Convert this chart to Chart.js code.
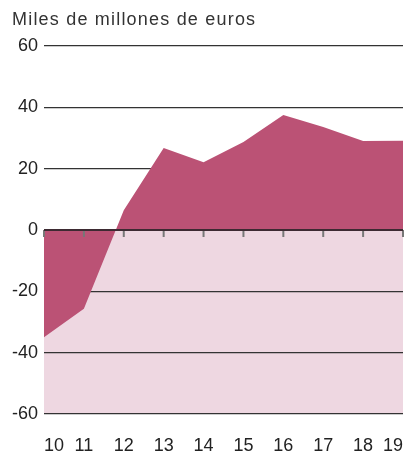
<!DOCTYPE html>
<html>
<head>
<meta charset="utf-8">
<script src="https://cdn.jsdelivr.net/npm/chart.js@4"></script>
<style>
  html, body { margin: 0; padding: 0; background: #fff; }
  #wrap { width: 405px; height: 451px; }
</style>
</head>
<body>
<div id="wrap"><canvas id="c" width="405" height="451"></canvas></div>
<script>
const categories = ['10', '11', '12', '13', '14', '15', '16', '17', '18', '19'];
const balance = [-35, -25.7, 6.4, 26.7, 22.1, 28.7, 37.5, 33.6, 29.0, 29.1];
const yTicks = [-60, -40, -20, 0, 20, 40, 60];
const titleText = 'Miles de millones de euros';

const DARK = '#bb5275';
const LIGHT = '#eed7e1';
const FONT = "'Liberation Sans', Arial, sans-serif";

const decorations = {
  id: 'decorations',
  beforeDraw(chart) {
    const { ctx, chartArea, scales } = chart;
    const y0 = scales.y.getPixelForValue(0);
    const yMin = scales.y.getPixelForValue(yTicks[0]);
    ctx.save();
    ctx.fillStyle = LIGHT;
    ctx.fillRect(chartArea.left, y0, chartArea.right - chartArea.left, yMin - y0);
    ctx.fillStyle = '#333';
    ctx.font = "18px " + FONT;
    if ('letterSpacing' in ctx) ctx.letterSpacing = '1.2px';
    ctx.textBaseline = 'alphabetic';
    ctx.textAlign = 'left';
    ctx.fillText(titleText, 12, 25);
    ctx.restore();
  },
  afterDatasetsDraw(chart) {
    const { ctx, chartArea, scales } = chart;
    const y0 = scales.y.getPixelForValue(0);
    ctx.save();
    ctx.strokeStyle = '#777';
    ctx.lineWidth = 2;
    categories.forEach((c, i) => {
      const x = scales.x.getPixelForValue(i);
      ctx.beginPath();
      ctx.moveTo(x, y0);
      ctx.lineTo(x, y0 + 7);
      ctx.stroke();
    });
    ctx.strokeStyle = '#3d2a32';
    ctx.lineWidth = 2;
    ctx.beginPath();
    ctx.moveTo(chartArea.left, y0);
    ctx.lineTo(chartArea.right, y0);
    ctx.stroke();
    ctx.restore();
  }
};

new Chart(document.getElementById('c'), {
  type: 'line',
  data: {
    labels: categories,
    datasets: [{
      data: balance,
      backgroundColor: DARK,
      borderWidth: 0,
      borderColor: DARK,
      pointRadius: 0,
      tension: 0,
      fill: { value: 0 }
    }]
  },
  options: {
    responsive: false,
    animation: false,
    devicePixelRatio: 1,
    layout: { padding: { left: 0, right: 2, top: 46, bottom: 0 } },
    plugins: {
      legend: { display: false },
      tooltip: { enabled: false },
      title: { display: false }
    },
    scales: {
      x: {
        type: 'category',
        offset: false,
        afterFit(scale) { scale.height = 37; scale.paddingRight = 0; scale.paddingLeft = 0; },
        grid: { display: false, drawTicks: false },
        border: { display: false },
        ticks: {
          color: '#222',
          font: { family: FONT, size: 18 },
          align: 'inner',
          padding: 21,
          maxRotation: 0,
          autoSkip: false
        }
      },
      y: {
        min: -60,
        max: 60,
        afterBuildTicks(scale) { scale.ticks = yTicks.map(v => ({ value: v })); },
        afterFit(scale) { scale.width = 44; scale.paddingTop = 0; scale.paddingBottom = 0; },
        grid: { color: '#333', lineWidth: 1.3, drawTicks: false },
        border: { display: false },
        ticks: {
          color: '#222',
          font: { family: FONT, size: 18 },
          padding: 6
        }
      }
    }
  },
  plugins: [decorations]
});
</script>
</body>
</html>
